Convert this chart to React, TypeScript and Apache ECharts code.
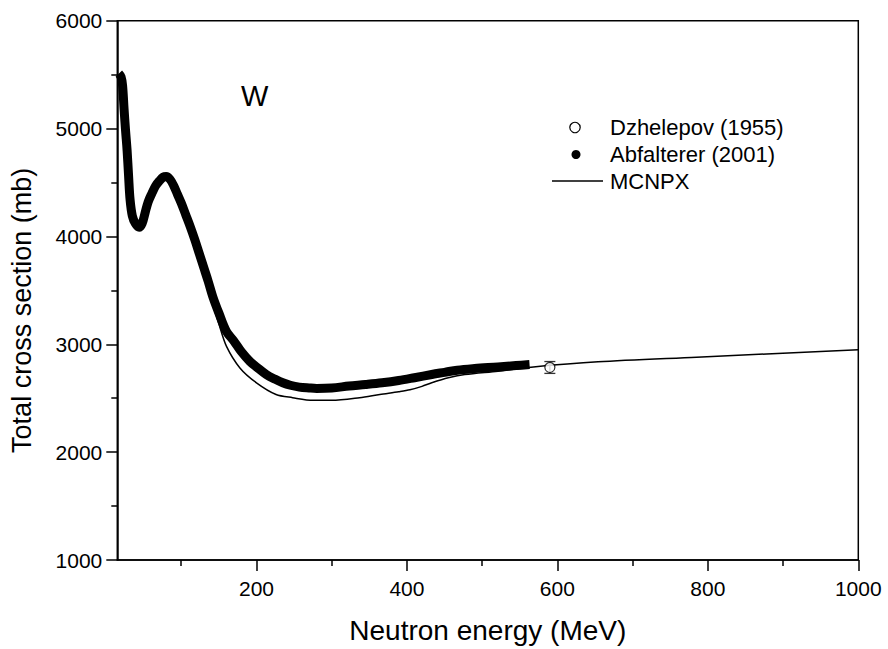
import React, { useEffect, useRef } from 'react';
import * as echarts from 'echarts';

// Abfalterer (2001) — dense measured band
const abfEnergy = [17, 20, 22, 24, 26, 28, 30, 32, 35, 39, 44, 48, 52, 56, 61, 66, 71, 76, 80, 85, 90, 95, 100, 106, 112, 118, 124, 130, 136, 142, 150, 160, 170, 180, 191, 200, 213, 225, 235, 245, 257, 270, 280, 300, 323, 345, 367, 389, 410, 433, 450, 467, 490, 521, 545, 563];
const abfSigma = [5510, 5480, 5400, 5180, 4980, 4800, 4560, 4340, 4190, 4120, 4085, 4120, 4220, 4320, 4400, 4470, 4515, 4550, 4555, 4530, 4470, 4390, 4310, 4200, 4090, 3970, 3840, 3710, 3580, 3440, 3290, 3120, 3030, 2930, 2843, 2790, 2720, 2675, 2643, 2620, 2603, 2595, 2591, 2595, 2613, 2627, 2643, 2664, 2690, 2720, 2740, 2760, 2775, 2790, 2803, 2812];

// MCNPX calculation
const mcEnergy = [20, 30, 45, 60, 77, 90, 105, 120, 130, 140, 150, 160, 178, 200, 226, 248, 275, 300, 337, 364, 389, 404, 420, 433, 455, 477, 521, 565, 654, 785, 1000];
const mcSigma = [5470, 4560, 4090, 4400, 4550, 4470, 4220, 3900, 3660, 3420, 3190, 2983, 2781, 2643, 2535, 2505, 2480, 2480, 2505, 2535, 2560, 2578, 2610, 2643, 2689, 2720, 2751, 2788, 2837, 2880, 2950];

// Dzhelepov (1955)
const dzEnergy = [590];
const dzSigma = [2785];
const dzErr = [55];

const xMajorTicks = [200, 400, 600, 800, 1000];
const xMinorTicks = [100, 300, 500, 700, 900];

const legendNames = ['Dzhelepov (1955)', 'Abfalterer (2001)', 'MCNPX'];

const FONT = 'Liberation Sans, Arial, Helvetica, sans-serif';

export default function App() {
  const ref = useRef<HTMLDivElement>(null);

  useEffect(() => {
    if (!ref.current) return;
    const chart = echarts.init(ref.current, undefined, { renderer: 'svg' });

    const abfData = abfEnergy.map((e, i) => [e, abfSigma[i]]);
    const mcData = mcEnergy.map((e, i) => [e, mcSigma[i]]);
    const dzData = dzEnergy.map((e, i) => [e, dzSigma[i]]);
    const dzErrData = dzEnergy.map((e, i) => [e, dzSigma[i], dzSigma[i] - dzErr[i], dzSigma[i] + dzErr[i]]);

    const legendText = (text: string, y: number) => ({
      type: 'text',
      x: 610,
      y,
      style: { text, fontSize: 22, fill: '#000', fontFamily: FONT, textVerticalAlign: 'middle', verticalAlign: 'middle' },
    });

    chart.setOption({
      animation: false,
      backgroundColor: '#fff',
      textStyle: { fontFamily: FONT },
      grid: {
        left: 117.3,
        right: 29.7,
        top: 20.7,
        bottom: 85.7,
        show: true,
        borderColor: '#000',
        borderWidth: 1.5,
        backgroundColor: 'transparent',
      },
      xAxis: [
        {
          type: 'value',
          min: 15,
          max: 1000,
          position: 'bottom',
          name: 'Neutron energy (MeV)',
          nameLocation: 'middle',
          nameGap: 56,
          nameTextStyle: { fontSize: 28, color: '#000', fontFamily: FONT },
          axisLine: { show: true, lineStyle: { color: '#000', width: 1.5 } },
          axisTick: { show: true, customValues: xMajorTicks, length: 11, lineStyle: { color: '#000', width: 1.5 } },
          axisLabel: {
            show: true,
            customValues: xMajorTicks,
            fontSize: 21,
            color: '#000',
            margin: 18,
            fontFamily: FONT,
            formatter: (v: number) => String(v),
          },
          splitLine: { show: false },
        },
        {
          type: 'value',
          min: 15,
          max: 1000,
          position: 'bottom',
          offset: 0,
          axisLine: { show: false },
          axisTick: { show: true, customValues: xMinorTicks, length: 6, lineStyle: { color: '#000', width: 1.5 } },
          axisLabel: { show: false },
          splitLine: { show: false },
        },
      ],
      yAxis: [
        {
          type: 'value',
          min: 1000,
          max: 6000,
          interval: 1000,
          position: 'left',
          name: 'Total cross section (mb)',
          nameLocation: 'middle',
          nameGap: 82,
          nameTextStyle: { fontSize: 27, color: '#000', fontFamily: FONT, padding: [0, 40, 0, 0] },
          axisLine: { show: true, lineStyle: { color: '#000', width: 1.5 } },
          axisTick: { show: true, length: 11, lineStyle: { color: '#000', width: 1.5 } },
          minorTick: { show: true, splitNumber: 2, length: 6, lineStyle: { color: '#000', width: 1.5 } },
          axisLabel: {
            fontSize: 21,
            color: '#000',
            margin: 15,
            fontFamily: FONT,
            formatter: (v: number) => String(v),
          },
          splitLine: { show: false },
        },
      ],
      graphic: [
        {
          type: 'text',
          x: 241,
          y: 96,
          style: { text: 'W', fontSize: 29, fill: '#000', fontFamily: FONT, textVerticalAlign: 'middle', verticalAlign: 'middle' },
        },
        {
          type: 'circle',
          shape: { cx: 575, cy: 127.5, r: 5.2 },
          style: { fill: '#fff', stroke: '#000', lineWidth: 1.2 },
        },
        {
          type: 'circle',
          shape: { cx: 576, cy: 154.5, r: 4.5 },
          style: { fill: '#000', stroke: '#000', lineWidth: 0 },
        },
        {
          type: 'line',
          shape: { x1: 552, y1: 181, x2: 603, y2: 181 },
          style: { stroke: '#000', lineWidth: 1.5 },
        },
        legendText(legendNames[0], 127.5),
        legendText(legendNames[1], 154.5),
        legendText(legendNames[2], 181),
      ],
      series: [
        {
          name: legendNames[2],
          type: 'line',
          data: mcData,
          smooth: 0.3,
          symbol: 'none',
          lineStyle: { color: '#000', width: 1.5 },
          itemStyle: { color: '#000' },
          z: 2,
        },
        {
          name: legendNames[1],
          type: 'line',
          data: abfData,
          smooth: 0.35,
          symbol: 'none',
          lineStyle: { color: '#000', width: 9, cap: 'butt', join: 'round' },
          itemStyle: { color: '#000' },
          z: 3,
        },
        {
          name: 'Dzhelepov error',
          type: 'custom',
          data: dzErrData,
          renderItem: (params: any, api: any) => {
            const x = api.value(0);
            const lo = api.coord([x, api.value(2)]);
            const hi = api.coord([x, api.value(3)]);
            const hw = 5.5;
            const st = { stroke: '#333', lineWidth: 1.3 };
            return {
              type: 'group',
              children: [
                { type: 'line', shape: { x1: lo[0], y1: lo[1], x2: hi[0], y2: hi[1] }, style: st },
                { type: 'line', shape: { x1: lo[0] - hw, y1: lo[1], x2: lo[0] + hw, y2: lo[1] }, style: st },
                { type: 'line', shape: { x1: hi[0] - hw, y1: hi[1], x2: hi[0] + hw, y2: hi[1] }, style: st },
              ],
            };
          },
          z: 4,
        },
        {
          name: legendNames[0],
          type: 'scatter',
          data: dzData,
          symbol: 'circle',
          symbolSize: 10,
          itemStyle: { color: '#fff', borderColor: '#000', borderWidth: 1.2 },
          z: 5,
        },
      ],
    });

    return () => chart.dispose();
  }, []);

  return <div ref={ref} style={{ position: 'fixed', left: 0, top: 0, width: 888, height: 649 }} />;
}
